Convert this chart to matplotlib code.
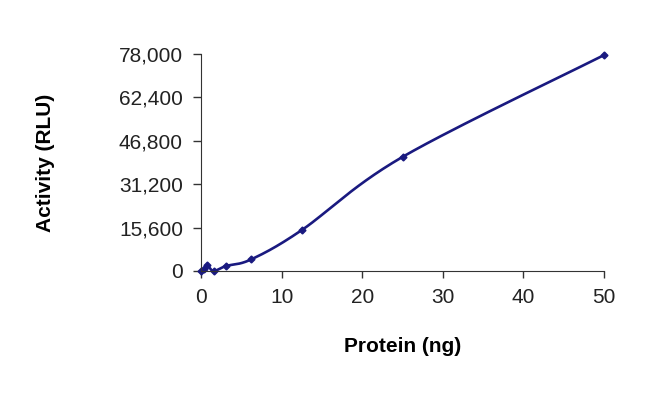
import matplotlib.pyplot as plt
import numpy as np
from matplotlib.ticker import FuncFormatter

plt.rcParams['font.family'] = ['Liberation Sans', 'DejaVu Sans']

protein = [0, 0.39, 0.78, 1.56, 3.125, 6.25, 12.5, 25, 50]
activity = [0, 600, 2000, 0, 1800, 4200, 14700, 41000, 77600]
yticks = [0, 15600, 31200, 46800, 62400, 78000]
xticks = [0, 10, 20, 30, 40, 50]

navy = '#1a1a80'


def excel_smooth(xs, ys, n=30):
    # bezier smoothing like the spreadsheet "smoothed line"
    xs = np.asarray(xs, float)
    ys = np.asarray(ys, float)
    # work in pixel-like units so tangents are balanced
    sx = 50.0 / 403
    sy = 78000.0 / 217
    px = xs / sx
    py = ys / sy
    outx, outy = [], []
    m = len(px)
    for i in range(m - 1):
        p0 = np.array([px[max(i - 1, 0)], py[max(i - 1, 0)]])
        p1 = np.array([px[i], py[i]])
        p2 = np.array([px[i + 1], py[i + 1]])
        p3 = np.array([px[min(i + 2, m - 1)], py[min(i + 2, m - 1)]])
        c1 = p1 + (p2 - p0) / 6
        c2 = p2 - (p3 - p1) / 6
        t = np.linspace(0, 1, n)[:, None]
        b = ((1 - t) ** 3) * p1 + 3 * ((1 - t) ** 2) * t * c1 + 3 * (1 - t) * t ** 2 * c2 + t ** 3 * p2
        outx.extend(b[:, 0] * sx)
        outy.extend(b[:, 1] * sy)
    return outx, outy


fig = plt.figure(figsize=(6.5, 4.01), dpi=100)
ax = fig.add_axes([201 / 650, 130 / 401, 403 / 650, 217 / 401])

sx, sy = excel_smooth(protein, activity)
ax.plot(sx, sy, color=navy, linewidth=1.9, clip_on=False)
ax.plot(protein, activity, linestyle='none', marker='D', markersize=3.5, color=navy, clip_on=False)

ax.set_xlim(0, 50)
ax.set_ylim(0, 78000)
ax.set_xticks(xticks)
ax.set_yticks(yticks)
ax.yaxis.set_major_formatter(FuncFormatter(lambda v, p: f'{int(v):,}'))
ax.tick_params(axis='both', labelsize=15, color='#333333', width=1, labelcolor='#222222')
ax.tick_params(axis='y', length=6, pad=7)
ax.tick_params(axis='x', length=5, pad=7)
ax.spines['top'].set_visible(False)
ax.spines['right'].set_visible(False)
ax.spines['left'].set_color('#333333')
ax.spines['bottom'].set_color('#333333')

ax.set_xlabel('Protein (ng)', fontsize=15, fontweight='bold', labelpad=22)
ax.set_ylabel('Activity (RLU)', fontsize=15, fontweight='bold', labelpad=46)

fig.savefig('out.png', dpi=100)
